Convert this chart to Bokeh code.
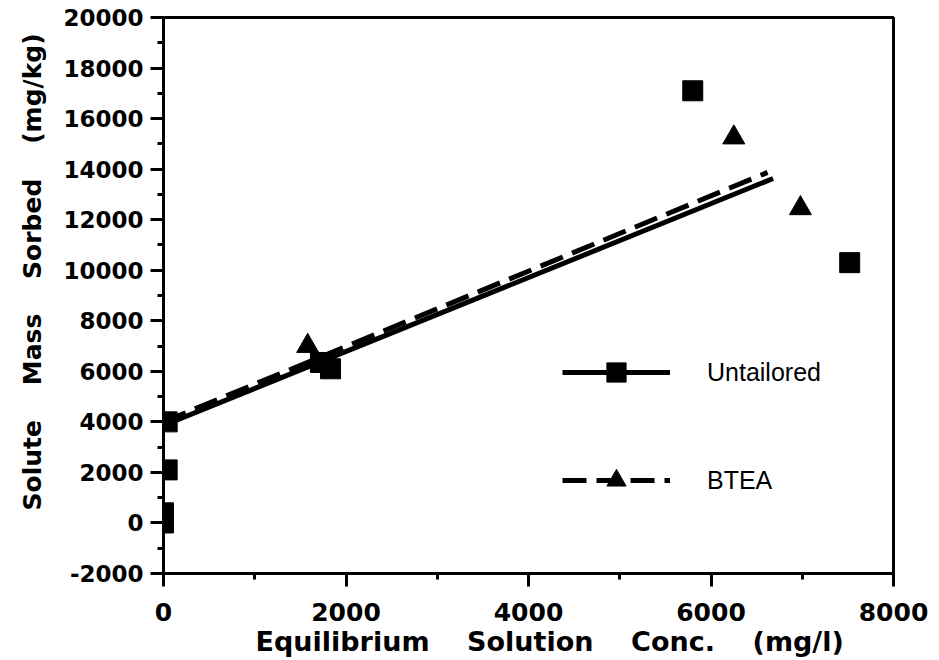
from bokeh.plotting import figure
from bokeh.models import Legend, LegendItem, Title, FixedTicker
from bokeh.embed import file_html
from bokeh.resources import INLINE

# ---- data ----
untailored_x = [0, 0, 40, 40, 1720, 1830, 5800, 7520]
untailored_y = [0, 400, 2100, 4000, 6350, 6100, 17100, 10300]

btea_x = [0, 1580, 6250, 6980]
btea_y = [4000, 7000, 15250, 12450]

untailored_fit_x = [0, 6680]
untailored_fit_y = [3860, 13630]

btea_fit_x = [0, 6620]
btea_fit_y = [4000, 13870]

x_major_ticks = [0, 2000, 4000, 6000, 8000]
x_minor_ticks = [1000, 3000, 5000, 7000]
y_major_ticks = [-2000, 0, 2000, 4000, 6000, 8000, 10000, 12000, 14000, 16000, 18000, 20000]
y_minor_ticks = [-1000, 1000, 3000, 5000, 7000, 9000, 11000, 13000, 15000, 17000, 19000]
y_tick_labels = {t: str(t) for t in y_major_ticks}

SP = "\u00a0" * 4
x_label = SP.join(["Equilibrium", "Solution", "Conc.", "(mg/l)"])
y_label = SP.join(["Solute", "Mass", "Sorbed", "(mg/kg)"])

p = figure(frame_width=730, frame_height=556,
           x_range=(0, 8000), y_range=(-2000, 20000),
           output_backend="svg", toolbar_location=None,
           min_border_left=163, min_border_right=44,
           min_border_top=17, min_border_bottom=85)

p.xgrid.visible = False
p.ygrid.visible = False
p.outline_line_color = "black"
p.outline_line_width = 3
p.outline_line_alpha = 1.0
p.background_fill_color = "white"
p.border_fill_color = "white"

p.xaxis.ticker = FixedTicker(ticks=x_major_ticks, minor_ticks=x_minor_ticks)
p.yaxis.ticker = FixedTicker(ticks=y_major_ticks, minor_ticks=y_minor_ticks)
p.yaxis.major_label_overrides = y_tick_labels

for ax in (p.xaxis[0], p.yaxis[0]):
    ax.axis_line_width = 3
    ax.axis_line_color = "black"
    ax.major_tick_line_width = 3
    ax.major_tick_line_color = "black"
    ax.minor_tick_line_width = 3
    ax.minor_tick_line_color = "black"
    ax.major_tick_in = 0
    ax.major_tick_out = 13
    ax.minor_tick_in = 0
    ax.minor_tick_out = 6
    ax.major_label_text_font = "DejaVu Sans"
    ax.major_label_text_font_style = "bold"
    ax.major_label_text_color = "black"

p.yaxis.major_label_text_font_size = "23px"
p.yaxis.major_label_standoff = 7
p.xaxis.major_label_text_font_size = "25px"
p.xaxis.major_label_standoff = 16

# fitted lines
l1 = p.line(untailored_fit_x, untailored_fit_y, line_color="black", line_width=5)
l2 = p.line(btea_fit_x, btea_fit_y, line_color="black", line_width=5, line_dash="24 10")

# data points
s1 = p.scatter(untailored_x, untailored_y, marker="square", size=20, color="black")
s2 = p.scatter(btea_x, btea_y, marker="triangle", size=22, color="black")

legend = Legend(items=[LegendItem(label="Untailored", renderers=[l1, s1]),
                       LegendItem(label="BTEA", renderers=[l2, s2])],
                location=(399, 69), padding=0, margin=0, spacing=60,
                glyph_width=108, glyph_height=48, label_height=48,
                label_standoff=37, border_line_alpha=0,
                background_fill_alpha=0,
                label_text_font="Liberation Sans", label_text_font_size="25px",
                label_text_color="black")
p.add_layout(legend, "center")

xt = Title(text=x_label, align="left", offset=92, standoff=0,
           text_font="DejaVu Sans", text_font_style="bold",
           text_font_size="27px", text_color="black")
p.add_layout(xt, "below")

yt = Title(text=y_label, align="left", offset=63, standoff=28,
           text_font="DejaVu Sans", text_font_style="bold",
           text_font_size="25px", text_color="black")
p.add_layout(yt, "left")

open("out.html", "w").write(file_html(p, INLINE))
